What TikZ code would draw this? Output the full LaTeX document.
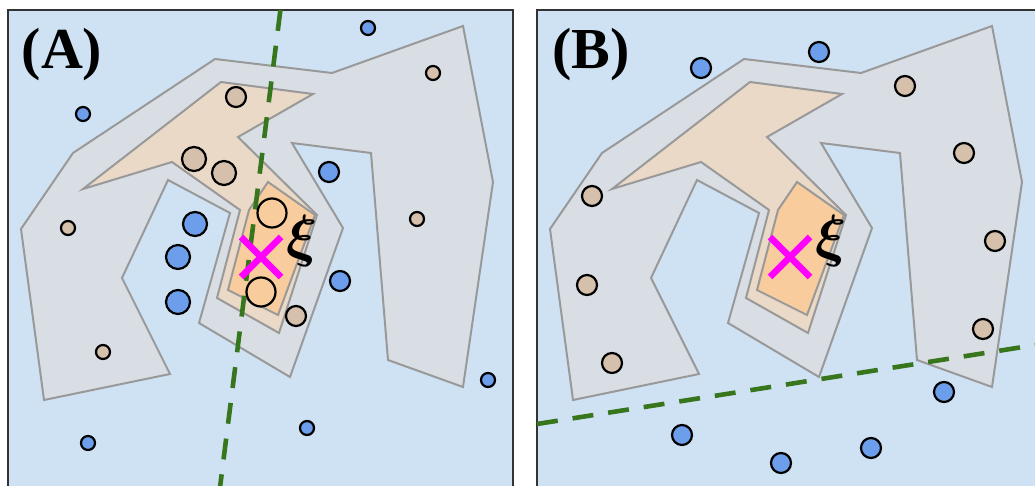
\RequirePackage{fix-cm}
\documentclass[tikz,border=0pt]{standalone}
\usepackage{amsmath,amssymb}
\usepackage{fontspec}
\setmainfont{Liberation Serif}
\usepackage{tikz}
\usetikzlibrary{positioning,calc}

\definecolor{bgblue}{RGB}{207,226,243}
\definecolor{outergrey}{RGB}{217,222,228}
\definecolor{midtan}{RGB}{234,217,199}
\definecolor{innerorange}{RGB}{248,204,156}
\definecolor{dotblue}{RGB}{109,158,235}
\definecolor{dottan}{RGB}{213,192,172}
\definecolor{bndgreen}{RGB}{56,118,29}
\definecolor{querymag}{RGB}{255,0,255}

\begin{document}
\begin{tikzpicture}[x=1pt, y=-1pt,
		frame/.style={draw=black!80, line width=2.4pt, fill=bgblue},
		region/.style={draw=black!40, line width=2pt},
		bluept/.style={fill=dotblue, draw=black, line width=2.2pt},
		tanpt/.style={fill=dottan, draw=black, line width=2.2pt},
		orangept/.style={fill=innerorange, draw=black, line width=2.2pt},
		boundary/.style={draw=bndgreen, line width=4.6pt, dash pattern=on 21pt off 15pt},
		query/.style={draw=querymag, line width=6.5pt},
		panellabel/.style={font=\fontsize{58}{60}\selectfont\bfseries, inner sep=0pt},
		xilabel/.style={font=\fontsize{58}{60}\selectfont, inner sep=0pt}
	]
		\clip (0,0) rectangle (1035,486);

		% panel frames
		\draw[frame] (8,10) rectangle (513,500);
		\draw[frame] (537,10) rectangle (1045,500);

		% nested regions, same in both panels
		\foreach \dx/\p in {0/A, 529/B} {
			\begin{scope}[xshift=\dx pt]
				\fill[outergrey] (44,400) -- (21,229) -- (73,153) -- (215,59) -- (332,73) -- (463,26) -- (493,182) -- (463,387) -- (388,360) -- (371,153) -- (292,143) -- (343,228) -- (290,377) -- (199,323) -- (230,213) -- (168,180) -- (122,278) -- (170,374) -- cycle;
				\draw[region] (44,400) -- (21,229) -- (73,153) -- (215,59) -- (332,73) -- (463,26) -- (493,182) -- (463,387) -- (388,360) -- (371,153) -- (292,143) -- (343,228) -- (290,377) -- (199,323) -- (230,213) -- (168,180) -- (122,278) -- (170,374) -- cycle;
				\draw[region, fill=midtan] (83,189) -- (221,82) -- (313,94) -- (238,137) -- (317,215) -- (279,333) -- (217,298) -- (240,210) -- (172,162) -- cycle;
				\draw[region, fill=innerorange] (268,182) -- (315,215) -- (278,315) -- (228,290) -- (249,210) -- cycle;
			\end{scope}
		}

		% separating lines
		\coordinate (cutAtop) at (280.4,10);
		\coordinate (cutAbot) at (218.4,500);
		\coordinate (cutBleft) at (537,424);
		\coordinate (cutBright) at (1045,343.5);
		\draw[boundary] (cutAtop) -- (cutAbot);
		\draw[boundary] (cutBleft) -- (cutBright);

		% samples, panel A
		\foreach \x/\y in {368/28, 83/114, 488/380, 307/428, 88/443}
			\filldraw[bluept] (\x,\y) circle[radius=7pt];
		\foreach \x/\y in {329/172, 340/281}
			\filldraw[bluept] (\x,\y) circle[radius=10pt];
		\foreach \x/\y in {195/224, 178/257, 178/302}
			\filldraw[bluept] (\x,\y) circle[radius=12pt];
		\foreach \x/\y in {433/73, 417/219, 68/228, 103/352}
			\filldraw[tanpt] (\x,\y) circle[radius=7pt];
		\foreach \x/\y in {296/316, 236/97}
			\filldraw[tanpt] (\x,\y) circle[radius=10pt];
		\foreach \x/\y in {194/159, 224/173}
			\filldraw[tanpt] (\x,\y) circle[radius=12pt];
		\foreach \x/\y in {272/213, 261/292}
			\filldraw[orangept] (\x,\y) circle[radius=14.5pt];

		% samples, panel B
		\foreach \x/\y in {701/68, 819/52, 944/392, 682/435, 781/463, 871/448}
			\filldraw[bluept] (\x,\y) circle[radius=10pt];
		\foreach \x/\y in {905/86, 964/153, 995/241, 983/329, 592/196, 587/285, 612/363}
			\filldraw[tanpt] (\x,\y) circle[radius=10pt];

		% query point
		\foreach \cx in {261, 790} {
			\draw[query] (\cx-20,237) -- (\cx+20,277);
			\draw[query] (\cx-20,277) -- (\cx+20,237);
		}
		\node[xilabel] (xiA) at (302,241) {$\boldsymbol{\xi}$};
		\node[xilabel] (xiB) at (831,241) {$\boldsymbol{\xi}$};

		\node[panellabel] (labA) at (62,55) {(A)};
		\node[panellabel] (labB) at (591,55) {(B)};
	\end{tikzpicture}
\end{document}
